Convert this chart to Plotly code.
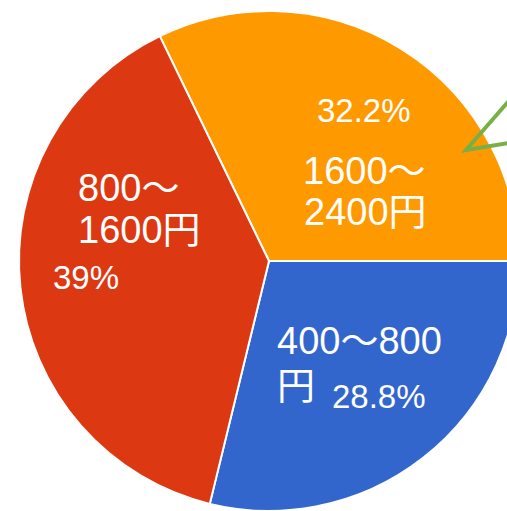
import plotly.graph_objects as go

# Data
labels = ["1600〜<br>2400円", "400〜800<br>円", "800〜<br>1600円"]
values = [32.2, 28.8, 39.0]
pct_text = ["32.2%", "28.8%", "39%"]
colors = ["#FF9900", "#3366CC", "#DC3912"]

W, H = 520, 511
FONT = "Liberation Sans, Arial, Noto Sans CJK JP, sans-serif"

# pie: center (269,261) on screen, radius 250
cx, cy, r = 269, 261, 250
fig = go.Figure(go.Pie(
    labels=labels,
    values=values,
    sort=False,
    direction="clockwise",
    rotation=-25.9,
    marker=dict(colors=colors, line=dict(color="white", width=2)),
    textinfo="none",
    hoverinfo="label+percent",
    domain=dict(x=[(cx - r) / W, min(1, (cx + r) / W)],
                y=[max(0, (H - (cy + r)) / H), (H - (cy - r)) / H]),
))


def px(x):
    return x / W


def py(y):
    return 1 - y / H


# Label line positions (screen pixels: left x, text middle y)
label_pos = [[(301, 173), (302, 214)], [(275, 343), (275, 388)], [(76, 190), (76, 232)]]
pct_pos = [(315, 111), (330, 397), (51, 278)]
ann = []
for lab, lines_pos in zip(labels, label_pos):
    for line, (x, y) in zip(lab.split("<br>"), lines_pos):
        ann.append(dict(text=line, x=px(x), y=py(y - 2), xref="paper", yref="paper",
                        xanchor="left", yanchor="middle", showarrow=False,
                        font=dict(family=FONT, size=38, color="white")))
for t, (x, y) in zip(pct_text, pct_pos):
    ann.append(dict(text=t, x=px(x), y=py(y - 1), xref="paper", yref="paper",
                    xanchor="left", yanchor="middle", showarrow=False,
                    font=dict(family=FONT, size=33, color="white")))

# Green callout pointer
path = (f"M {px(W)},{py(88)} L {px(466)},{py(150)} "
        f"L {px(W)},{py(141)}")
shapes = [dict(type="path", path=path, xref="paper", yref="paper",
               line=dict(color="#77B047", width=4))]

fig.update_layout(
    width=W, height=H,
    margin=dict(l=0, r=0, t=0, b=0),
    showlegend=False,
    paper_bgcolor="white",
    annotations=ann,
    shapes=shapes,
)

fig.write_html(
    "out.html",
    config={"displayModeBar": False},
    post_script="document.body.style.margin='0px';"
                "document.body.style.overflow='hidden';",
)
